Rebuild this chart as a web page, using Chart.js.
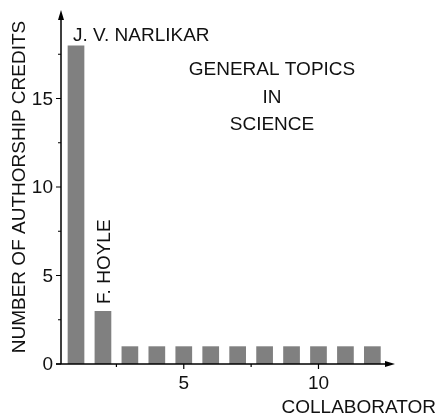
<!DOCTYPE html>
<html>
<head>
<meta charset="utf-8">
<script src="https://cdn.jsdelivr.net/npm/chart.js@4/dist/chart.umd.min.js"></script>
<style>
  html, body { margin: 0; padding: 0; background: #ffffff; }
  #wrap { width: 436px; height: 417px; position: relative; }
</style>
</head>
<body>
<div id="wrap"><canvas id="chart" width="436" height="417"></canvas></div>
<script>
// Authorship credits per collaborator
const collaborators = [1, 2, 3, 4, 5, 6, 7, 8, 9, 10, 11, 12];
const credits = [18, 3, 1, 1, 1, 1, 1, 1, 1, 1, 1, 1];

// Axis ticks
const yMajorTicks = [0, 5, 10, 15];
const yMinorTicks = [2.5, 7.5, 12.5, 17.5];
const xMajorTicks = [5, 10];
const xMinorTicks = [2.5, 7.5];

// Texts
const yTitle = 'NUMBER OF AUTHORSHIP CREDITS';
const xTitle = 'COLLABORATOR';
const topicLines = ['GENERAL TOPICS', 'IN', 'SCIENCE'];
const topLabel = { x: 1, y: 18, text: 'J. V. NARLIKAR' };
const sideLabel = { x: 2, y: 3, text: 'F. HOYLE' };

const FONT = '"Liberation Sans", Arial, Helvetica, sans-serif';
const FSIZE = 19;

const axesPlugin = {
  id: 'arrowAxes',
  afterDatasetsDraw(chart) {
    const ctx = chart.ctx;
    const xs = chart.scales.x, ys = chart.scales.y;
    const area = chart.chartArea;
    const x0 = area.left, y0 = ys.getPixelForValue(0);
    ctx.save();
    ctx.strokeStyle = '#000';
    ctx.fillStyle = '#000';
    ctx.lineWidth = 1.5;

    // axis lines
    ctx.beginPath();
    ctx.moveTo(x0, y0);
    ctx.lineTo(x0, area.top + 6);
    ctx.moveTo(x0 - 5, y0);
    ctx.lineTo(area.right - 6, y0);
    ctx.stroke();

    // arrow heads
    ctx.beginPath();
    ctx.moveTo(x0, area.top);
    ctx.lineTo(x0 - 3, area.top + 10);
    ctx.lineTo(x0 + 3, area.top + 10);
    ctx.closePath();
    ctx.fill();
    ctx.beginPath();
    ctx.moveTo(area.right, y0);
    ctx.lineTo(area.right - 10, y0 - 3);
    ctx.lineTo(area.right - 10, y0 + 3);
    ctx.closePath();
    ctx.fill();

    // y ticks
    ctx.lineWidth = 1.2;
    ctx.beginPath();
    yMajorTicks.forEach(v => { const p = ys.getPixelForValue(v); ctx.moveTo(x0 - 5, p); ctx.lineTo(x0, p); });
    yMinorTicks.forEach(v => { const p = ys.getPixelForValue(v); ctx.moveTo(x0 - 3, p); ctx.lineTo(x0, p); });
    // x ticks
    xMajorTicks.forEach(v => { const p = xs.getPixelForValue(v); ctx.moveTo(p, y0); ctx.lineTo(p, y0 + 5); });
    xMinorTicks.forEach(v => { const p = xs.getPixelForValue(v); ctx.moveTo(p, y0); ctx.lineTo(p, y0 + 3); });
    ctx.stroke();

    ctx.font = FSIZE + 'px ' + FONT;
    ctx.fillStyle = '#111';
    // y tick labels
    ctx.textAlign = 'right';
    ctx.textBaseline = 'middle';
    yMajorTicks.forEach(v => ctx.fillText(String(v), x0 - 8, ys.getPixelForValue(v) + 1));
    // x tick labels
    ctx.textAlign = 'center';
    ctx.textBaseline = 'top';
    xMajorTicks.forEach(v => ctx.fillText(String(v), xs.getPixelForValue(v), y0 + 10));

    // axis titles
    ctx.textAlign = 'right';
    ctx.textBaseline = 'alphabetic';
    ctx.fillText(xTitle, 436, 413);
    ctx.save();
    ctx.translate(25, (ys.getPixelForValue(0) + area.top) / 2);
    ctx.rotate(-Math.PI / 2);
    ctx.textAlign = 'center';
    ctx.fillText(yTitle, 0, 0);
    ctx.restore();

    // bar annotations
    ctx.textAlign = 'left';
    ctx.fillText(topLabel.text, xs.getPixelForValue(topLabel.x) - 3, ys.getPixelForValue(topLabel.y) - 4);
    ctx.save();
    ctx.translate(xs.getPixelForValue(sideLabel.x) + 7, ys.getPixelForValue(sideLabel.y) - 7);
    ctx.rotate(-Math.PI / 2);
    ctx.textAlign = 'left';
    ctx.fillText(sideLabel.text, 0, 0);
    ctx.restore();

    // centred note
    ctx.textAlign = 'center';
    topicLines.forEach((t, i) => ctx.fillText(t, 272, 75 + i * 27.5));
    ctx.restore();
  }
};

new Chart(document.getElementById('chart'), {
  type: 'bar',
  data: {
    datasets: [{
      data: collaborators.map((c, i) => ({ x: c, y: credits[i] })),
      backgroundColor: '#808080',
      borderWidth: 0,
      barPercentage: 0.62,
      categoryPercentage: 1
    }]
  },
  options: {
    responsive: false,
    animation: false,
    layout: { padding: { left: 61, right: 41, top: 10, bottom: 53 } },
    plugins: { legend: { display: false }, tooltip: { enabled: false } },
    scales: {
      x: { type: 'linear', display: false, offset: false, min: 0.443, max: 12.84 },
      y: { type: 'linear', display: false, min: 0, max: 20 }
    }
  },
  plugins: [axesPlugin]
});
</script>
</body>
</html>
